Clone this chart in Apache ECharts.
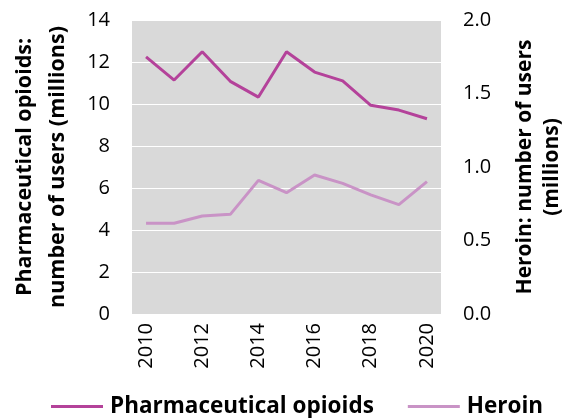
<!DOCTYPE html>
<html><head><meta charset="utf-8">
<script src="https://cdn.jsdelivr.net/npm/echarts@6/dist/echarts.min.js"></script>
<style>html,body{margin:0;padding:0;background:#fff}#c{width:574px;height:418px}</style>
</head><body><div id="c"></div>
<script>
const years = ['2010','2011','2012','2013','2014','2015','2016','2017','2018','2019','2020'];
const pharmaOpioids = [12.24, 11.14, 12.49, 11.08, 10.33, 12.49, 11.52, 11.10, 9.94, 9.71, 9.30];
const heroin = [0.617, 0.617, 0.667, 0.678, 0.909, 0.825, 0.946, 0.889, 0.810, 0.744, 0.900];
const leftTicks = [0, 2, 4, 6, 8, 10, 12, 14];
const rightTicks = [0.0, 0.5, 1.0, 1.5, 2.0];

const F = '"Open Sans", Lato, sans-serif';
const chart = echarts.init(document.getElementById('c'));
chart.setOption({
  animation: false,
  textStyle: {fontFamily: F},
  grid: {left: 129, right: 123, top: 20, bottom: 104, show: true, backgroundColor: '#d9d9d9', borderWidth: 0},
  legend: {
    bottom: 0, left: 51, padding: 0, itemGap: 34, itemWidth: 52, itemHeight: 3, icon: 'rect',
    textStyle: {fontFamily: F, fontSize: 22.5, fontWeight: 'bold', color: '#000', padding: [0,0,0,2]},
    data: ['Pharmaceutical opioids', 'Heroin']
  },
  xAxis: {
    type: 'category', data: years, boundaryGap: true,
    axisLine: {show: false}, axisTick: {show: false},
    axisLabel: {
      rotate: 90, fontSize: 20, color: '#000', margin: 9,
      interval: 0,
      formatter: (v, i) => (i % 2 === 0 ? v : '')
    }
  },
  yAxis: [
    {
      type: 'value', min: 0, max: 14, interval: 2,
      name: 'Pharmaceutical opioids:\nnumber of users (millions)', nameLocation: 'middle', nameRotate: 90, nameGap: 58,
      nameTextStyle: {fontFamily: F, fontSize: 21.5, fontWeight: 'bold', color: '#000', lineHeight: 33},
      axisLine: {show: false}, axisTick: {show: false},
      axisLabel: {fontSize: 20, color: '#000', margin: 22, formatter: v => String(v)},
      splitLine: {lineStyle: {color: '#ffffff', width: 1}}
    },
    {
      type: 'value', min: 0, max: 2, interval: 0.5, position: 'right',
      name: 'Heroin: number of users\n(millions)', nameLocation: 'middle', nameRotate: 90, nameGap: 71,
      nameTextStyle: {fontFamily: F, fontSize: 21, fontWeight: 'bold', color: '#000', lineHeight: 27},
      axisLine: {show: false}, axisTick: {show: false},
      axisLabel: {fontSize: 20, color: '#000', margin: 22, formatter: v => v.toFixed(1)},
      splitLine: {show: false}
    }
  ],
  series: [
    {name: 'Pharmaceutical opioids', type: 'line', yAxisIndex: 0, data: pharmaOpioids, symbol: 'none',
     lineStyle: {color: '#b4429a', width: 3}, itemStyle: {color: '#b4429a'}},
    {name: 'Heroin', type: 'line', yAxisIndex: 1, data: heroin, symbol: 'none',
     lineStyle: {color: '#c993c6', width: 3}, itemStyle: {color: '#c993c6'}}
  ]
});
</script></body></html>
